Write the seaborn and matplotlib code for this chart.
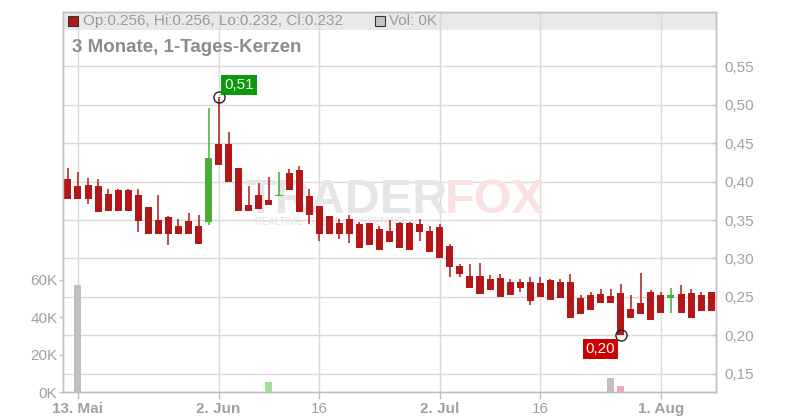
import numpy as np
import pandas as pd
import matplotlib
matplotlib.use('Agg')
import matplotlib.pyplot as plt
from matplotlib.patches import Rectangle
from matplotlib.ticker import FuncFormatter
import seaborn as sns

# ── 1. DATA (1-day candles) ───────────────────────────────
dates = pd.bdate_range('2025-05-12', '2025-08-08')

opens = [0.403, 0.394, 0.396, 0.394, 0.384, 0.389, 0.389, 0.383, 0.367, 0.350,
         0.354, 0.342, 0.349, 0.342, 0.348, 0.449, 0.449, 0.418, 0.370, 0.383,
         0.376, 0.381, 0.411, 0.415, 0.381, 0.368, 0.355, 0.346, 0.351, 0.345,
         0.346, 0.338, 0.336, 0.346, 0.346, 0.345, 0.336, 0.341, 0.316, 0.290,
         0.277, 0.277, 0.273, 0.275, 0.269, 0.269, 0.269, 0.268, 0.272, 0.269,
         0.269, 0.249, 0.253, 0.254, 0.251, 0.255, 0.234, 0.242, 0.256, 0.253,
         0.248, 0.254, 0.255, 0.253, 0.256]
highs = [0.418, 0.412, 0.405, 0.403, 0.390, 0.390, 0.390, 0.390, 0.367, 0.383,
         0.355, 0.351, 0.359, 0.357, 0.496, 0.510, 0.465, 0.418, 0.394, 0.398,
         0.406, 0.412, 0.416, 0.421, 0.390, 0.368, 0.355, 0.351, 0.356, 0.347,
         0.346, 0.342, 0.350, 0.348, 0.348, 0.351, 0.342, 0.345, 0.319, 0.293,
         0.293, 0.294, 0.279, 0.280, 0.273, 0.273, 0.276, 0.276, 0.273, 0.273,
         0.280, 0.253, 0.256, 0.260, 0.260, 0.267, 0.253, 0.281, 0.259, 0.256,
         0.262, 0.266, 0.260, 0.256, 0.256]
lows = [0.378, 0.378, 0.371, 0.360, 0.362, 0.362, 0.362, 0.334, 0.332, 0.332,
        0.317, 0.332, 0.332, 0.319, 0.344, 0.422, 0.400, 0.362, 0.362, 0.364,
        0.370, 0.381, 0.389, 0.360, 0.345, 0.323, 0.332, 0.325, 0.320, 0.314,
        0.318, 0.311, 0.322, 0.314, 0.311, 0.323, 0.308, 0.300, 0.276, 0.276,
        0.262, 0.254, 0.259, 0.250, 0.252, 0.257, 0.240, 0.250, 0.246, 0.248,
        0.222, 0.228, 0.233, 0.242, 0.242, 0.200, 0.222, 0.228, 0.220, 0.229,
        0.229, 0.229, 0.222, 0.232, 0.232]
closes = [0.378, 0.378, 0.378, 0.360, 0.362, 0.362, 0.362, 0.349, 0.332, 0.332,
          0.332, 0.332, 0.332, 0.319, 0.431, 0.422, 0.400, 0.362, 0.362, 0.364,
          0.370, 0.383, 0.389, 0.360, 0.356, 0.332, 0.332, 0.332, 0.332, 0.314,
          0.318, 0.311, 0.322, 0.314, 0.311, 0.335, 0.308, 0.300, 0.289, 0.280,
          0.262, 0.254, 0.259, 0.250, 0.252, 0.262, 0.244, 0.250, 0.246, 0.248,
          0.222, 0.228, 0.233, 0.242, 0.242, 0.200, 0.222, 0.228, 0.220, 0.229,
          0.253, 0.229, 0.222, 0.232, 0.232]
volumes = [0, 57000, 0, 0, 0, 0, 0, 0, 0, 0,
           0, 0, 0, 0, 0, 0, 0, 0, 0, 0,
           5300, 0, 0, 0, 0, 0, 0, 0, 0, 0,
           0, 0, 0, 0, 0, 0, 0, 0, 0, 0,
           0, 0, 0, 0, 0, 0, 0, 0, 0, 0,
           0, 0, 0, 0, 7500, 3200, 0, 0, 0, 0,
           0, 0, 0, 0, 0]

tick_dates = ['2025-05-13', '2025-06-02', '2025-06-16', '2025-07-02', '2025-07-16', '2025-08-01']
tick_labels = ['13. Mai', '2. Jun', '16', '2. Jul', '16', '1. Aug']
price_ticks = [0.15, 0.20, 0.25, 0.30, 0.35, 0.40, 0.45, 0.50, 0.55]
vol_ticks = [0, 20000, 40000, 60000]

# ── 2. STYLE ──────────────────────────────────────────────
sns.set_theme(style='white')
plt.rcParams['font.family'] = ['Liberation Sans', 'DejaVu Sans']
RED = '#b31717'; GREEN = '#48ad34'; GRID = '#d9d9d9'; AXIS = '#c0c0c0'
TXT = '#a0a0a0'

o = np.array(opens); h = np.array(highs); l = np.array(lows); c = np.array(closes)
x = np.arange(len(dates))
up = c > o

fig = plt.figure(figsize=(8, 4.2), dpi=100)
fig.patch.set_facecolor('white')
ax = fig.add_axes([63/800, 28/420, 653/800, 380/420])
ax_v = ax.twinx()

# header band
ax.add_patch(Rectangle((0, (392-30)/380), 1, 18/380, transform=ax.transAxes,
                       fc='#e9e9e9', ec='none', zorder=0.2))

# watermark
ax.text((245-63)/653, (392-213)/380, 'TRADER', transform=ax.transAxes, fontsize=35,
        fontweight='bold', color='#e6e6e6', zorder=0.6, va='baseline')
ax.text((445-63)/653, (392-213)/380, 'FOX', transform=ax.transAxes, fontsize=35,
        fontweight='bold', color='#fbe1e1', zorder=0.6, va='baseline')
ax.text((255-63)/653, (392-225)/380, 'REALTIME  STOCK  SCREENING', transform=ax.transAxes,
        fontsize=7, color='#e3e3e3', zorder=0.6, va='baseline')

# ── 3. CANDLES ────────────────────────────────────────────
cols = np.where(up, GREEN, RED)
ax.vlines(x, l, h, colors=cols, lw=1.1, zorder=2)
body_lo = np.minimum(o, c)
body_h = np.maximum(np.abs(c - o), 0.0015)
ax.bar(x, body_h, bottom=body_lo, width=0.7, color=cols, edgecolor='none', zorder=3)

# extremes
i_hi = int(np.argmax(h)); i_lo = int(np.argmin(l))
ax.plot([x[i_hi], x[i_lo]], [h[i_hi], l[i_lo]], 'o', ms=8, mfc='none', mec='#222222',
        mew=1, zorder=4)
ax.annotate(f'{h[i_hi]:.2f}'.replace('.', ','), (x[i_hi], h[i_hi]), xytext=(14.5, 8.5),
            textcoords='offset points', ha='center', va='center', color='white', fontsize=11,
            bbox=dict(boxstyle='square,pad=0.2', fc='#0a9a0a', ec='none'), zorder=5)
ax.annotate(f'{l[i_lo]:.2f}'.replace('.', ','), (x[i_lo], l[i_lo]), xytext=(-14.5, -10),
            textcoords='offset points', ha='center', va='center', color='white', fontsize=11,
            bbox=dict(boxstyle='square,pad=0.2', fc='#cc0000', ec='none'), zorder=5)

# ── 4. VOLUME ─────────────────────────────────────────────
prev = np.r_[c[0], c[:-1]]
vcols = np.where(c > prev, '#a6dc9c', np.where(c < prev, '#f2a9b1', '#c0c0c0'))
ax_v.bar(x, volumes, width=0.7, color=vcols, edgecolor='none')

# ── 5. AXES ───────────────────────────────────────────────
ax.set_xlim(-0.49, 64.48)
ax.set_ylim(0.1262, 0.6208)
ax_v.set_ylim(0, 202700)

tick_pos = [dates.get_loc(pd.Timestamp(d)) for d in tick_dates]
ax.set_xticks(tick_pos)
ax.set_xticklabels(tick_labels)
for lab, t in zip(ax.get_xticklabels(), tick_labels):
    lab.set_fontweight('normal' if t.isdigit() else 'bold')

ax.yaxis.tick_right()
ax.set_yticks(price_ticks)
ax.yaxis.set_major_formatter(FuncFormatter(lambda v, p: f'{v:.2f}'.replace('.', ',')))
ax.grid(True, color=GRID, lw=1)
ax.set_axisbelow(True)

ax_v.yaxis.tick_left()
ax_v.set_yticks(vol_ticks)
ax_v.yaxis.set_major_formatter(FuncFormatter(lambda v, p: f'{v/1000:.0f}K'))
ax_v.grid(False)

ax.tick_params(axis='x', colors=AXIS, labelcolor=TXT, labelsize=11, length=5, width=1, pad=2, bottom=True)
ax.tick_params(axis='y', colors=AXIS, labelcolor=TXT, labelsize=11, length=3, width=1,
               direction='in', pad=6, right=True, left=False)
ax_v.tick_params(axis='y', colors=AXIS, labelcolor=TXT, labelsize=11, length=3, width=1,
                 pad=1, left=True, right=False)
for a in (ax, ax_v):
    for s in a.spines.values():
        s.set_color(AXIS)
        s.set_linewidth(1)

# ── 6. HEADER TEXT ────────────────────────────────────────
fig.add_artist(Rectangle((68/800, 1-26/420), 10/800, 10/420, transform=fig.transFigure,
                         fc='#b31717', ec='#333333', lw=0.8))
fig.text(83/800, 1-21/420, 'Op:0.256, Hi:0.256, Lo:0.232, Cl:0.232', fontsize=11,
         color='#9a9a9a', va='center')
fig.add_artist(Rectangle((375/800, 1-26/420), 10/800, 10/420, transform=fig.transFigure,
                         fc='#c4c4c4', ec='#333333', lw=0.8))
fig.text(389/800, 1-21/420, 'Vol: 0K', fontsize=11, color='#9a9a9a', va='center')
fig.text(72/800, 1-47/420, '3 Monate, 1-Tages-Kerzen', fontsize=13.5, fontweight='bold',
         color='#8c8c8c', va='center')

plt.savefig('out.png', dpi=100, facecolor='white')
